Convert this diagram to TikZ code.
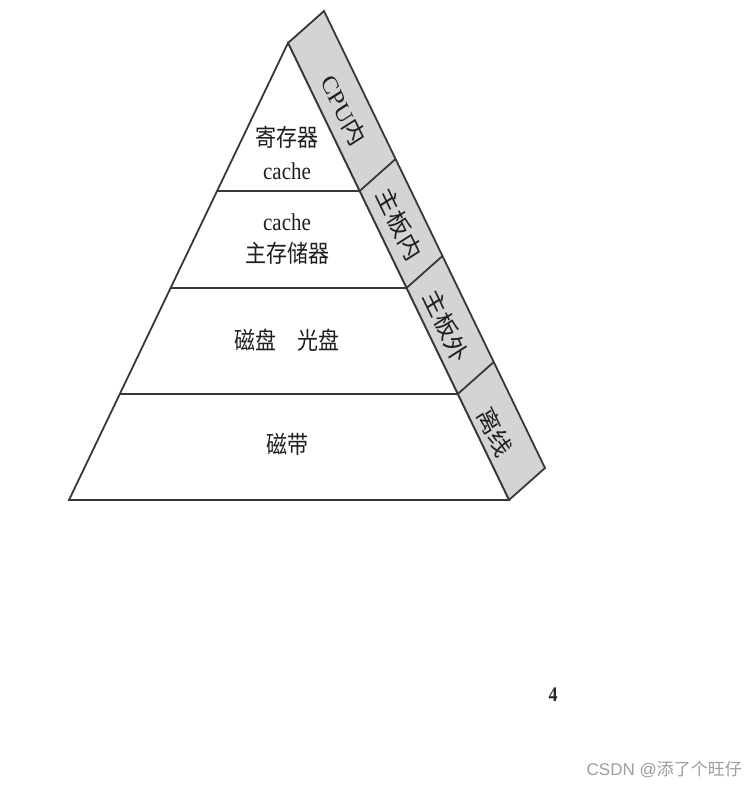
\documentclass[tikz,border=0pt]{standalone}
\usepackage{fontspec}
\setmainfont{Liberation Serif}
\newfontfamily\cjk{Noto Sans CJK SC}
\newfontfamily\wmsans{Liberation Sans}
\usetikzlibrary{calc}
\begin{document}
\begin{tikzpicture}[x=1pt,y=-1pt,
  edge/.style={draw=black!78, line width=1.8pt, line join=miter},
  bandfill/.style={edge, fill=black!17},
  lvl/.style={text=black!88, font=\fontsize{21}{25}\selectfont, yscale=1.15, inner sep=0pt, align=center},
  bandlbl/.style={text=black!88, font=\fontsize{22.5}{26}\selectfont, yscale=1.15, rotate=-61, inner sep=0pt},
  wm/.style={text=black!38, font=\fontsize{17}{20}\selectfont, inner sep=0pt}
]
\useasboundingbox (0,0) rectangle (754,789);
\fill[white] (0,0) rectangle (754,789);
% main corners
\coordinate (A) at (288,43);
\coordinate (BL) at (69,500);
\coordinate (BR) at (509,500);
\coordinate (T) at ($(A)+(36,-32)$);
\coordinate (BO) at ($(BR)+(36,-32)$);
% side band
\filldraw[bandfill] (A) -- (T) -- (BO) -- (BR) -- cycle;
% pyramid
\draw[edge, fill=white] (A) -- (BL) -- (BR) -- cycle;
% level boundaries
\foreach \t/\n in {0.3239/1, 0.5361/2, 0.7681/3}{
  \coordinate (L\n) at ($(A)!\t!(BL)$);
  \coordinate (R\n) at ($(A)!\t!(BR)$);
  \coordinate (O\n) at ($(R\n)+(36,-32)$);
  \draw[edge] (L\n) -- (R\n);
  \draw[edge] (R\n) -- (O\n);
}
% level texts
\node[lvl] (t1a) at (287,137) {\cjk 寄存器};
\node[lvl] (t1b) at (287,171) {cache};
\node[lvl] (t2a) at (287,222) {cache};
\node[lvl] (t2b) at (287,253) {\cjk 主存储器};
\node[lvl] (t3) at (287,340) {\cjk 磁盘\hspace{1em}光盘};
\node[lvl] (t4) at (287,444) {\cjk 磁带};
% band texts
\node[bandlbl] (b1) at (344,110) {CPU{\cjk 内}};
\node[bandlbl] (b2) at (399,224) {\cjk 主板内};
\node[bandlbl] (b3) at (446,326) {\cjk 主板外};
\node[bandlbl] (b4) at (495,432) {\cjk 离线};
% page number
\node[text=black!85, font=\fontsize{18}{20}\selectfont\bfseries, yscale=1.15, inner sep=0pt] (pg) at (553,695) {4};
% watermark
\node[wm, anchor=east] (wmk) at (742,770) {\wmsans CSDN @{\cjk 添了个旺仔}};
\end{tikzpicture}
\end{document}
